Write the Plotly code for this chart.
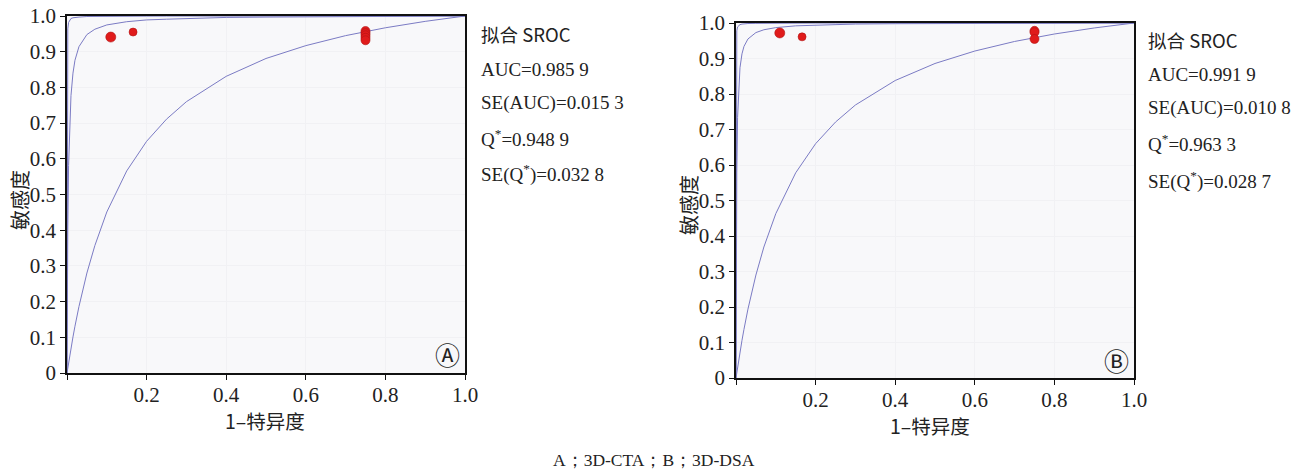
import plotly.graph_objects as go

W, H = 1309, 471

# ---- data ----
curve_x = [0, 0.0005, 0.001, 0.002, 0.004, 0.007, 0.01, 0.015, 0.02, 0.03, 0.05, 0.07,
           0.1, 0.15, 0.2, 0.25, 0.3, 0.4, 0.5, 0.6, 0.7, 0.8, 0.9, 1.0]

# panel A
a_outer = [0, 0.870, 0.930, 0.964, 0.982, 0.990, 0.993, 0.995, 0.996, 0.997, 0.9986, 0.999,
           0.9993, 0.9995, 0.9997, 0.9998, 0.9998, 0.9999, 0.9999, 1.0, 1.0, 1.0, 1.0, 1.0]
a_sroc = [0, 0.147, 0.257, 0.409, 0.581, 0.709, 0.777, 0.840, 0.876, 0.914, 0.948, 0.963,
          0.975, 0.984, 0.989, 0.991, 0.993, 0.996, 0.997, 0.998, 0.999, 0.9993, 0.9997, 1.0]
a_lower = [0, 0.0037, 0.0074, 0.0146, 0.029, 0.050, 0.070, 0.101, 0.131, 0.186, 0.280, 0.357,
           0.451, 0.566, 0.649, 0.711, 0.760, 0.831, 0.881, 0.917, 0.945, 0.967, 0.985, 1.0]
a_pts_x = [0.11, 0.166, 0.75, 0.75, 0.75, 0.75, 0.75]
a_pts_y = [0.941, 0.955, 0.958, 0.952, 0.946, 0.939, 0.932]
a_pts_size = [10, 8, 9, 9, 9, 9, 9]

# panel B
b_outer = [0, 0.917, 0.957, 0.978, 0.989, 0.994, 0.9955, 0.997, 0.998, 0.9985, 0.999, 0.9993,
           0.9996, 0.9997, 0.9998, 0.9999, 0.9999, 1.0, 1.0, 1.0, 1.0, 1.0, 1.0, 1.0]
b_sroc = [0, 0.256, 0.408, 0.580, 0.734, 0.829, 0.874, 0.913, 0.934, 0.955, 0.973, 0.981,
          0.987, 0.992, 0.994, 0.995, 0.997, 0.998, 0.9985, 0.999, 0.9994, 0.9996, 0.9998, 1.0]
b_lower = [0, 0.0039, 0.0077, 0.0153, 0.030, 0.052, 0.073, 0.106, 0.137, 0.194, 0.290, 0.369,
           0.463, 0.578, 0.660, 0.721, 0.769, 0.838, 0.886, 0.921, 0.948, 0.969, 0.986, 1.0]
b_pts_x = [0.11, 0.166, 0.75, 0.75, 0.75]
b_pts_y = [0.972, 0.961, 0.978, 0.974, 0.955]
b_pts_size = [10, 8, 9, 9, 9]

y_ticks = [0, 0.1, 0.2, 0.3, 0.4, 0.5, 0.6, 0.7, 0.8, 0.9, 1.0]
y_ticktext = ["0", "0.1", "0.2", "0.3", "0.4", "0.5", "0.6", "0.7", "0.8", "0.9", "1.0"]
x_ticks = [0, 0.2, 0.4, 0.6, 0.8, 1.0]
x_ticktext = ["", "0.2", "0.4", "0.6", "0.8", "1.0"]

stats_a = ["拟合 SROC", "AUC=0.985 9", "SE(AUC)=0.015 3", "Q<sup>*</sup>=0.948 9", "SE(Q<sup>*</sup>)=0.032 8"]
stats_b = ["拟合 SROC", "AUC=0.991 9", "SE(AUC)=0.010 8", "Q<sup>*</sup>=0.963 3", "SE(Q<sup>*</sup>)=0.028 7"]
y_title = "敏感度"
x_title = "1–特异度"
caption = "A；3D-CTA；B；3D-DSA"

# ---- layout geometry (window pixels -> paper fractions) ----
def px_x(p):
    return p / W

def px_y(p):
    return 1 - p / H

panels = {
    "A": dict(x0=67, x1=465, y0=16, y1=373),
    "B": dict(x0=736, x1=1134, y0=23, y1=378),
}

LINE = "#7b7bc4"
RED = "#e01b1b"
SERIF = "Liberation Serif, Times New Roman, serif"
CJK = "Noto Sans CJK SC, sans-serif"

fig = go.Figure()

def add_panel(idx, outer, sroc, lower, px, py, ps):
    xa = "x" if idx == 1 else "x2"
    ya = "y" if idx == 1 else "y2"
    for ys in (outer, sroc, lower):
        fig.add_trace(go.Scatter(x=curve_x, y=ys, mode="lines", xaxis=xa, yaxis=ya,
                                 line=dict(color=LINE, width=1), showlegend=False,
                                 hoverinfo="skip", cliponaxis=False))
    fig.add_trace(go.Scatter(x=px, y=py, mode="markers", xaxis=xa, yaxis=ya, opacity=1,
                             marker=dict(color=RED, size=ps, opacity=1,
                                         line=dict(color="#b01212", width=0.6)),
                             showlegend=False, cliponaxis=False))

add_panel(1, a_outer, a_sroc, a_lower, a_pts_x, a_pts_y, a_pts_size)
add_panel(2, b_outer, b_sroc, b_lower, b_pts_x, b_pts_y, b_pts_size)

def axis_common():
    return dict(range=[0, 1], showline=True, linecolor="#111", linewidth=1.6, mirror=True,
                ticks="outside", ticklen=5, tickwidth=1.2, tickcolor="#111",
                tickfont=dict(family=SERIF, size=21, color="#222"),
                showgrid=True, gridcolor="#f1f1f4", gridwidth=1, zeroline=False,
                fixedrange=True, automargin=False)

pa, pb = panels["A"], panels["B"]
fig.update_layout(
    width=W, height=H, autosize=False,
    margin=dict(l=0, r=0, t=0, b=0, autoexpand=False),
    paper_bgcolor="white", plot_bgcolor="#f8f8fa",
    xaxis=dict(axis_common(), domain=[px_x(pa["x0"]), px_x(pa["x1"])], anchor="y",
               tickvals=x_ticks, ticktext=x_ticktext, ticklabelstandoff=-3),
    yaxis=dict(axis_common(), domain=[px_y(pa["y1"]), px_y(pa["y0"])], anchor="x",
               tickvals=y_ticks, ticktext=y_ticktext),
    xaxis2=dict(axis_common(), domain=[px_x(pb["x0"]), px_x(pb["x1"])], anchor="y2",
                tickvals=x_ticks, ticktext=x_ticktext, ticklabelstandoff=-3),
    yaxis2=dict(axis_common(), domain=[px_y(pb["y1"]), px_y(pb["y0"])], anchor="x2",
                tickvals=y_ticks, ticktext=y_ticktext),
)

ann = []

def txt(xp, yp, text, font, size, angle=0, xanchor="center"):
    ann.append(dict(x=px_x(xp), y=px_y(yp), text=text, textangle=angle, showarrow=False,
                    xref="paper", yref="paper", xanchor=xanchor, yanchor="middle",
                    font=dict(family=font, size=size, color="#222")))

# axis titles
txt(19, 200, y_title, CJK, 20, angle=-90)
txt(688, 205, y_title, CJK, 20, angle=-90)
txt(265, 420, x_title, CJK, 19.5)
txt(930, 425, x_title, CJK, 19.5)
# stats text
for i, t in enumerate(stats_a):
    txt(479, [34, 70, 103, 138, 174][i], t, SERIF if i else CJK, 19 if i else 18.5, xanchor="left")
for i, t in enumerate(stats_b):
    txt(1146, [40, 75, 108, 143, 180][i], t, SERIF if i else CJK, 19 if i else 18.5, xanchor="left")
# panel labels
ann.append(dict(x=0.955, y=0.045, text="Ⓐ", showarrow=False, xref="x", yref="y",
                xanchor="center", yanchor="middle",
                font=dict(family="DejaVu Sans, Noto Sans CJK SC", size=25, color="#222")))
ann.append(dict(x=0.955, y=0.045, text="Ⓑ", showarrow=False, xref="x2", yref="y2",
                xanchor="center", yanchor="middle",
                font=dict(family="DejaVu Sans, Noto Sans CJK SC", size=25, color="#222")))
# caption
txt(654, 460, caption, SERIF, 17.5)

fig.update_layout(annotations=ann)
fig.write_html("out.html", config={"displayModeBar": False},
               post_script="document.body.style.margin='0';document.body.style.padding='0';")
